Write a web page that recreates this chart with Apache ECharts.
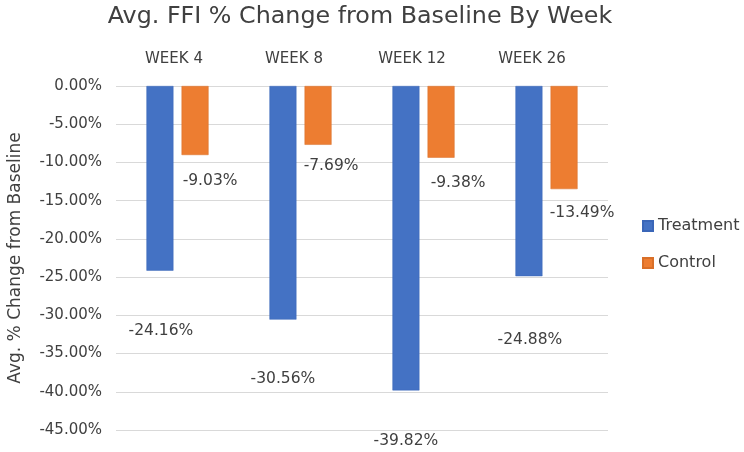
<!DOCTYPE html>
<html>
<head>
<meta charset="utf-8">
<script src="https://cdn.jsdelivr.net/npm/echarts@6/dist/echarts.min.js"></script>
<style>html,body{margin:0;padding:0;background:#fff}#c{width:744px;height:452px}</style>
</head>
<body>
<div id="c"></div>
<script>
const categories = ['WEEK 4', 'WEEK 8', 'WEEK 12', 'WEEK 26'];
const treatment = [-24.16, -30.56, -39.82, -24.88];
const control = [-9.03, -7.69, -9.38, -13.49];
const seriesNames = ['Treatment', 'Control'];
const yMin = -45, yMax = 0, yStep = 5;

// label placement (style, kept apart from the data)
const treatLabelOffset = [[1, 52], [0, 51], [0, 43], [1, 56]];
const ctrlLabelOffset = [[15, 18], [13, 13], [17, 17], [18, 16]];
const catLabelShift = [3.5, 6.5, 11.5, 14.5];

const FONT = 'DejaVu Sans';
const TXT = '#404040';

function fmt(v) { return v.toFixed(2) + '%'; }

function buildData(vals, offs) {
  return vals.map((v, i) => ({
    value: v,
    label: { offset: offs[i] }
  }));
}

const chart = echarts.init(document.getElementById('c'), null, { renderer: 'canvas' });
chart.setOption({
  animation: false,
  textStyle: { fontFamily: FONT },
  title: {
    text: 'Avg. FFI % Change from Baseline By Week',
    left: 355, top: 0, textAlign: 'center',
    textStyle: { fontFamily: FONT, fontSize: 23.8, fontWeight: 'normal', color: '#404040' }
  },
  legend: {
    orient: 'vertical', left: 637, top: 211,
    itemWidth: 10, itemHeight: 10, itemGap: 17,
    icon: 'rect',
    textStyle: { fontFamily: FONT, fontSize: 16, color: TXT, lineHeight: 20 },
    data: seriesNames
  },
  grid: { left: 116, right: 136, top: 86, bottom: 22, outerBoundsMode: 'none' },
  xAxis: {
    type: 'category', position: 'top',
    data: categories.map((c, i) => ({ value: c, textStyle: { padding: [0, catLabelShift[i] * 2, 0, 0] } })),
    axisLine: { show: false }, axisTick: { show: false },
    axisLabel: { fontFamily: FONT, fontSize: 15, color: TXT, margin: 19 }
  },
  yAxis: {
    type: 'value', min: yMin, max: yMax, interval: yStep,
    name: 'Avg. % Change from Baseline', nameLocation: 'middle', nameGap: 92,
    nameTextStyle: { fontFamily: FONT, fontSize: 17, color: TXT },
    axisLine: { show: false }, axisTick: { show: false },
    axisLabel: { fontFamily: FONT, fontSize: 15, color: TXT, margin: 14, formatter: v => fmt(v) },
    splitLine: { lineStyle: { color: '#d9d9d9', width: 1 } }
  },
  series: [
    {
      name: seriesNames[0], type: 'bar', data: buildData(treatment, treatLabelOffset),
      barWidth: 27, barGap: '30%',
      itemStyle: { color: '#4472C4', borderColor: '#3a66b8', borderWidth: 0.5 },
      label: { show: true, position: 'bottom', distance: 0, formatter: p => fmt(p.value),
        fontFamily: FONT, fontSize: 15.5, color: TXT }
    },
    {
      name: seriesNames[1], type: 'bar', data: buildData(control, ctrlLabelOffset),
      barWidth: 27, barGap: '30%',
      itemStyle: { color: '#ED7D31', borderColor: '#d96f28', borderWidth: 0.5 },
      label: { show: true, position: 'bottom', distance: 0, formatter: p => fmt(p.value),
        fontFamily: FONT, fontSize: 15.5, color: TXT }
    }
  ]
});
</script>
</body>
</html>
